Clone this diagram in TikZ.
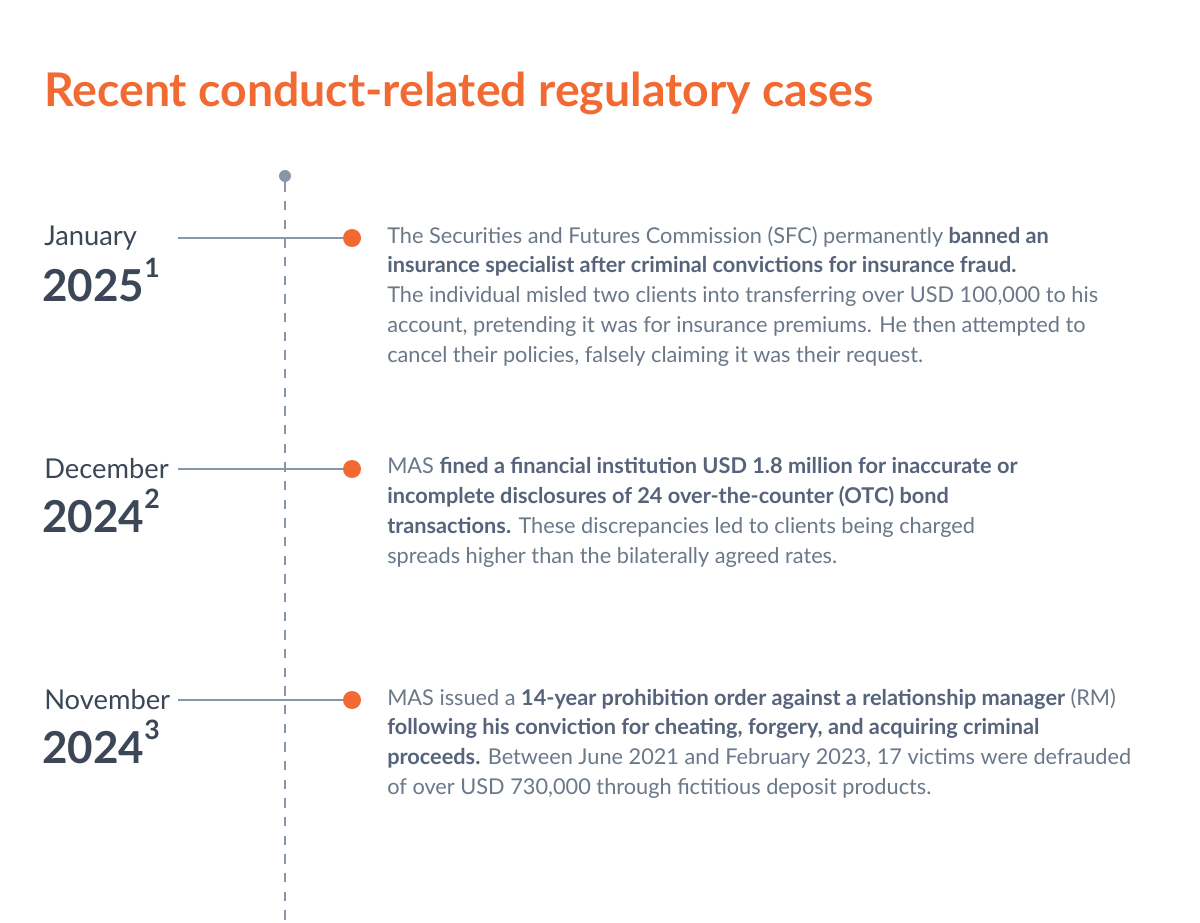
\documentclass[tikz,border=0pt]{standalone}
\usepackage{fontspec}
\setmainfont{Lato}
\definecolor{org}{HTML}{F26A32}
\definecolor{gl}{HTML}{8797A8}
\definecolor{dk}{HTML}{3B4657}
\definecolor{bd}{HTML}{6A7889}
\definecolor{bdb}{HTML}{56637A}
\tikzset{
 month/.style={anchor=west,font=\fontsize{20.5}{22}\selectfont,text=dk,inner sep=0},
 year/.style={anchor=west,font=\fontsize{33}{36}\selectfont\bfseries,text=dk,inner sep=0},
 body/.style={anchor=north west,align=left,font=\fontsize{16.3}{22.4}\selectfont,text=bd,inner sep=0},
 conn/.style={gl,line width=1.3pt},
 odot/.style={circle,fill=org,minimum size=13.5pt,inner sep=0},
}
\newcommand{\bb}[1]{\textbf{\color{bdb}#1}}
\newcommand{\sups}[1]{\raisebox{0.55em}{\fontsize{20}{22}\selectfont #1}}
\begin{document}
\begin{tikzpicture}[x=0.75pt,y=-0.75pt]
\useasboundingbox[fill=white] (0,0) rectangle (1200,923);
\node[anchor=west,inner sep=0,text=org,font=\fontsize{34.8}{38}\selectfont\bfseries] (title) at (44,93) {Recent conduct-related regulatory cases};
\node[circle,fill=gl,minimum size=9pt,inner sep=0] (top) at (285,176) {};
\coordinate (bot) at (285,923);
\draw[conn,dashed,dash pattern=on 7pt off 7pt,line width=1.2pt] (top) -- (bot);
\foreach \n/\y/\m/\yr/\s in {a/238/January/2025/1,b/469/December/2024/2,c/700/November/2024/3}{
 \node[month] (m\n) at (44,\y) {\m};
 \node[year] (y\n) at (42,\y+42) {\yr\sups{\s}};
 \coordinate (s\n) at (178,\y);
 \node[odot] (d\n) at (352,\y) {};
 \draw[conn] (s\n) -- (d\n);
}
\node[body] (ta) at (387,226) {The Securities and Futures Commission (SFC) permanently \bb{banned an}\\
\bb{insurance specialist after criminal convictions for insurance fraud.}\\
The individual misled two clients into transferring over USD 100,000 to his\\
account, pretending it was for insurance premiums. He then attempted to\\
cancel their policies, falsely claiming it was their request.};
\node[body] (tb) at (387,457) {MAS \bb{fined a financial institution USD 1.8 million for inaccurate or}\\
\bb{incomplete disclosures of 24 over-the-counter (OTC) bond}\\
\bb{transactions.} These discrepancies led to clients being charged\\
spreads higher than the bilaterally agreed rates.};
\node[body] (tc) at (387,688) {MAS issued a \bb{14-year prohibition order against a relationship manager} (RM)\\
\bb{following his conviction for cheating, forgery, and acquiring criminal}\\
\bb{proceeds.} Between June 2021 and February 2023, 17 victims were defrauded\\
of over USD 730,000 through fictitious deposit products.};
\end{tikzpicture}
\end{document}
